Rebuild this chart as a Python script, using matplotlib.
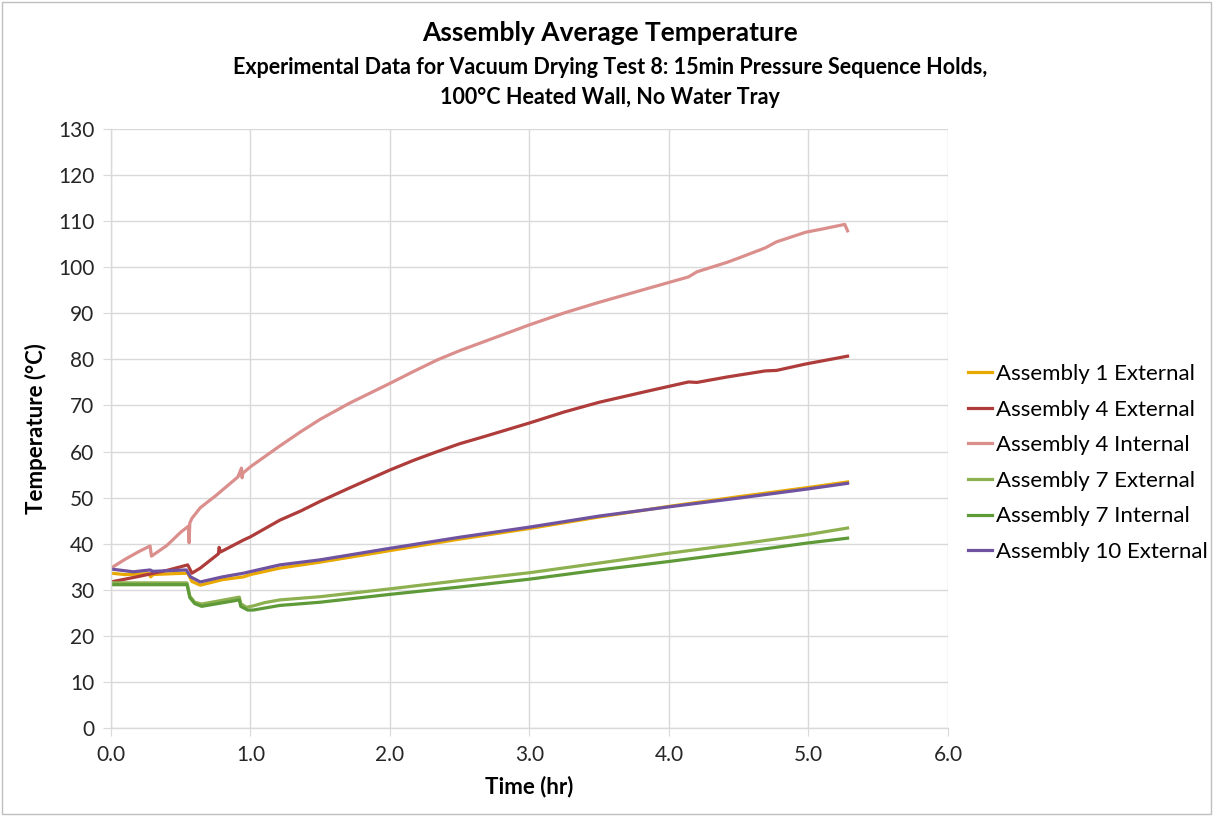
import matplotlib
matplotlib.use("Agg")
import matplotlib.pyplot as plt
from matplotlib.patches import Rectangle

plt.rcParams['font.family'] = ['Lato', 'DejaVu Sans']

# Assembly 1 External
t_a1_ext = [0.0, 0.1, 0.27, 0.285, 0.3, 0.45, 0.55, 0.58, 0.64, 0.8, 0.95, 1.0, 1.21, 1.5, 2.0, 2.5, 3.0, 3.5, 4.0, 4.5, 5.0, 5.28]
v_a1_ext = [33.6, 33.3, 33.5, 32.8, 33.3, 33.5, 33.6, 31.8, 31.0, 32.2, 32.8, 33.3, 34.7, 36.0, 38.5, 41.0, 43.3, 45.8, 48.1, 50.2, 52.2, 53.4]

# Assembly 4 External
t_a4_ext = [0.0, 0.2, 0.4, 0.55, 0.58, 0.64, 0.77, 0.775, 0.785, 0.95, 1.0, 1.21, 1.36, 1.5, 1.71, 2.0, 2.17, 2.34, 2.5, 2.67, 3.0, 3.25, 3.5, 3.86, 4.14, 4.2, 4.42, 4.69, 4.77, 4.98, 5.28]
v_a4_ext = [31.7, 32.9, 34.2, 35.4, 33.6, 34.7, 37.8, 39.2, 38.2, 40.8, 41.5, 45.1, 47.1, 49.2, 52.1, 56.0, 58.1, 60.0, 61.7, 63.2, 66.2, 68.6, 70.7, 73.2, 75.1, 75.0, 76.2, 77.5, 77.6, 79.0, 80.7]

# Assembly 4 Internal
t_a4_int = [0.0, 0.1, 0.2, 0.28, 0.29, 0.4, 0.5, 0.555, 0.56, 0.565, 0.58, 0.64, 0.75, 0.91, 0.935, 0.94, 0.945, 1.0, 1.2, 1.36, 1.5, 1.71, 2.0, 2.17, 2.34, 2.5, 2.67, 3.0, 3.25, 3.5, 3.86, 4.14, 4.2, 4.42, 4.5, 4.69, 4.77, 4.98, 5.1, 5.26, 5.28]
v_a4_int = [34.7, 36.6, 38.3, 39.5, 37.3, 39.6, 42.5, 43.8, 40.2, 44.5, 45.5, 47.8, 50.4, 54.5, 56.4, 54.3, 55.3, 56.7, 61.0, 64.3, 67.0, 70.5, 74.8, 77.4, 79.9, 81.9, 83.8, 87.5, 90.1, 92.4, 95.5, 97.9, 99.0, 101.1, 102.0, 104.2, 105.5, 107.6, 108.3, 109.3, 107.9]

# Assembly 7 External
t_a7_ext = [0.0, 0.3, 0.545, 0.565, 0.6, 0.65, 0.92, 0.93, 0.97, 1.02, 1.1, 1.21, 1.5, 2.0, 2.5, 3.0, 3.5, 3.99, 4.5, 4.98, 5.28]
v_a7_ext = [31.5, 31.5, 31.5, 28.6, 27.3, 26.9, 28.4, 27.0, 26.2, 26.5, 27.2, 27.8, 28.5, 30.2, 32.0, 33.7, 35.8, 37.9, 39.9, 41.9, 43.4]

# Assembly 7 Internal
t_a7_int = [0.0, 0.3, 0.545, 0.565, 0.6, 0.65, 0.92, 0.93, 0.98, 1.02, 1.21, 1.5, 2.0, 2.5, 3.0, 3.5, 3.99, 4.5, 4.98, 5.28]
v_a7_int = [31.1, 31.1, 31.1, 28.3, 27.0, 26.4, 27.8, 26.4, 25.6, 25.6, 26.6, 27.3, 29.0, 30.6, 32.3, 34.3, 36.1, 38.1, 40.1, 41.2]

# Assembly 10 External
t_a10_ext = [0.0, 0.16, 0.28, 0.3, 0.54, 0.57, 0.64, 0.8, 0.95, 1.21, 1.5, 2.0, 2.5, 3.0, 3.5, 4.0, 4.5, 5.0, 5.28]
v_a10_ext = [34.5, 33.9, 34.3, 34.0, 34.3, 32.8, 31.7, 32.8, 33.6, 35.4, 36.5, 39.0, 41.4, 43.6, 46.0, 48.0, 49.9, 51.9, 53.1]

series = [
    ("Assembly 1 External", t_a1_ext, v_a1_ext, "#EAA900"),
    ("Assembly 4 External", t_a4_ext, v_a4_ext, "#AE3C3A"),
    ("Assembly 4 Internal", t_a4_int, v_a4_int, "#DB8F8D"),
    ("Assembly 7 External", t_a7_ext, v_a7_ext, "#8DB050"),
    ("Assembly 7 Internal", t_a7_int, v_a7_int, "#5E9A38"),
    ("Assembly 10 External", t_a10_ext, v_a10_ext, "#6F52A0"),
]

x_ticks = [0, 1, 2, 3, 4, 5, 6]
y_ticks = list(range(0, 131, 10))

W, H = 1213, 816
fig = plt.figure(figsize=(W / 100, H / 100), dpi=100)
fig.patches.append(Rectangle((2 / W, 2 / H), 1 - 4 / W, 1 - 4 / H, transform=fig.transFigure,
                             fill=False, edgecolor="#BFBFBF", linewidth=1.0))

ax = fig.add_axes([111 / W, (H - 728) / H, (948 - 111) / W, (728 - 129) / H])

for name, t, v, c in series:
    ax.plot(t, v, color=c, linewidth=2.3, label=name, solid_joinstyle="round")

ax.set_xlim(0, 6)
ax.set_ylim(0, 130)
ax.set_xticks(x_ticks)
ax.set_xticklabels([f"{x:.1f}" for x in x_ticks])
ax.set_yticks(y_ticks)
ax.grid(True, color="#D9D9D9", linewidth=1.0)
ax.set_axisbelow(True)
for s in ["top", "right"]:
    ax.spines[s].set_visible(False)
for s in ["left", "bottom"]:
    ax.spines[s].set_color("#D9D9D9")
    ax.spines[s].set_linewidth(1.0)
ax.tick_params(axis="both", direction="out", length=6, color="#D9D9D9", labelsize=15, pad=6,
               labelcolor="#262626")

ax.set_xlabel("Time (hr)", fontsize=16, fontweight="bold", labelpad=8)
ax.set_ylabel("Temperature (°C)", fontsize=16, fontweight="bold", labelpad=8)

fig.text(0.503, 1 - 33 / H, "Assembly Average Temperature", ha="center", va="center",
         fontsize=19, fontweight="bold")
fig.text(0.503, 1 - 67 / H, "Experimental Data for Vacuum Drying Test 8: 15min Pressure Sequence Holds,",
         ha="center", va="center", fontsize=15.5, fontweight="bold")
fig.text(0.503, 1 - 97 / H, "100°C Heated Wall, No Water Tray", ha="center", va="center",
         fontsize=15.5, fontweight="bold")

leg = fig.legend(loc="center left", bbox_to_anchor=(968 / W, 1 - 463 / H), frameon=False,
                 fontsize=16, handlelength=1.1, handletextpad=0.15, labelspacing=0.7,
                 borderaxespad=0, borderpad=0)

fig.savefig("out.png", dpi=100)
